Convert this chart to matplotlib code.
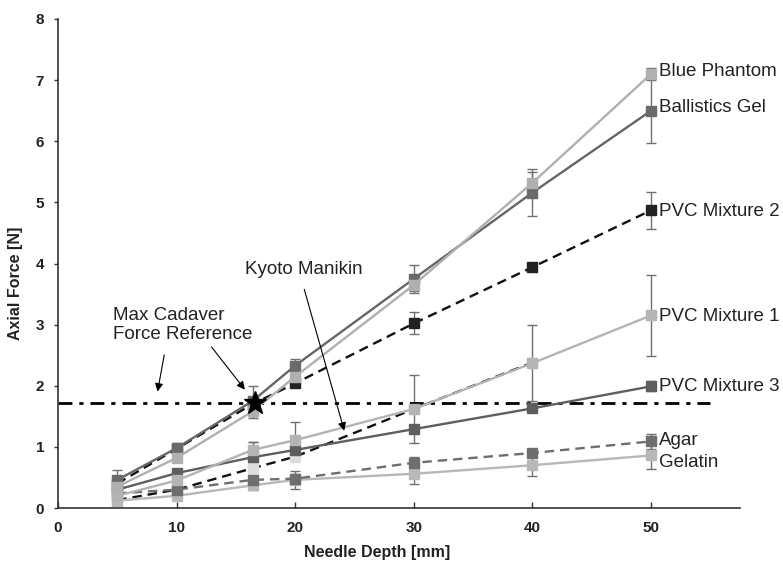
import numpy as np
import matplotlib.pyplot as plt

plt.rcParams['font.family'] = ['Liberation Sans', 'DejaVu Sans']

# needle depth [mm]
depth = [5, 10, 16.4, 20, 30, 40, 50]
depth_kyoto = [5, 10, 16.4, 20, 30, 40]

# axial force [N] and standard deviations
blue_phantom = [0.35, 0.82, 1.58, 2.15, 3.65, 5.32, 7.10]
blue_phantom_err = [0.05, 0.05, 0.10, 0.08, 0.10, 0.18, 0.10]
ballistics_gel = [0.46, 0.98, 1.75, 2.33, 3.75, 5.16, 6.50]
ballistics_gel_err = [0.16, 0.08, 0.25, 0.10, 0.23, 0.38, 0.53]
pvc2 = [0.40, 0.97, 1.70, 2.04, 3.02, 3.94, 4.87]
pvc2_err = [0.05, 0.05, 0.08, 0.05, 0.18, 0.07, 0.30]
pvc1 = [0.20, 0.45, 0.95, 1.11, 1.62, 2.37, 3.15]
pvc1_err = [0.04, 0.05, 0.13, 0.30, 0.55, 0.62, 0.67]
pvc3 = [0.30, 0.57, 0.83, 0.95, 1.29, 1.63, 1.99]
pvc3_err = [0.03, 0.04, 0.25, 0.05, 0.05, 0.05, 0.08]
agar = [0.24, 0.30, 0.46, 0.48, 0.74, 0.90, 1.09]
agar_err = [0.03, 0.04, 0.06, 0.08, 0.10, 0.07, 0.12]
gelatin = [0.12, 0.20, 0.37, 0.46, 0.56, 0.70, 0.86]
gelatin_err = [0.03, 0.04, 0.08, 0.15, 0.17, 0.17, 0.22]
kyoto = [0.13, 0.30, 0.65, 0.84, 1.62, 2.38]

cadaver_force = 1.72
cadaver_depth = 16.6

fig = plt.figure(figsize=(7.83, 5.65), dpi=100)
ax = fig.add_axes([58 / 783, 57 / 565, 682 / 783, 489 / 565])

series = [
    # values, errors, line colour, marker colour, linestyle, label, label y
    (gelatin, gelatin_err, '#b8b8b8', '#b8b8b8', '-', 'Gelatin', 0.74),
    (agar, agar_err, '#6e6e6e', '#6e6e6e', (0, (4, 2.5)), 'Agar', 1.10),
    (pvc3, pvc3_err, '#5e5e5e', '#5e5e5e', '-', 'PVC Mixture 3', 1.98),
    (pvc1, pvc1_err, '#b4b4b4', '#b4b4b4', '-', 'PVC Mixture 1', 3.13),
    (pvc2, pvc2_err, '#111111', '#222222', (0, (4, 2.5)), 'PVC Mixture 2', 4.85),
    (ballistics_gel, ballistics_gel_err, '#666666', '#6a6a6a', '-', 'Ballistics Gel', 6.56),
    (blue_phantom, blue_phantom_err, '#b0b0b0', '#b0b0b0', '-', 'Blue Phantom', 7.14),
]

for vals, errs, lc, mc, ls, label, ly in series:
    ax.errorbar(depth, vals, yerr=errs, color=lc, linestyle=ls, linewidth=1.7,
                marker='s', markersize=6.5, markerfacecolor=mc, markeredgecolor=mc,
                ecolor='#707070', elinewidth=1, capsize=3.5, capthick=1)
    ax.text(50.7, ly, label, fontsize=13.5, color='#222222', va='center', ha='left')

ax.plot(depth_kyoto, kyoto, color='#111111', linestyle=(0, (4, 2.5)), linewidth=1.7,
        marker='s', markersize=6.5, markerfacecolor='#dedede', markeredgecolor='#dedede')

# max cadaver force reference
ax.plot([0, 55], [cadaver_force, cadaver_force], color='black', linewidth=2,
        linestyle=(0, (5, 2.5, 1.5, 2.5)))
ax.plot(cadaver_depth, cadaver_force, marker='*', markersize=17, color='black', zorder=10)

arrow = dict(arrowstyle='-|>', color='black', lw=0.8, mutation_scale=12)
ax.text(4.6, 3.0, 'Max Cadaver\nForce Reference', fontsize=13.5, color='#222222',
        ha='left', va='center', linespacing=1.15)
ax.annotate('', xy=(8.35, 1.86), xytext=(9.0, 2.55), arrowprops=arrow)
ax.annotate('', xy=(15.9, 1.9), xytext=(12.8, 2.67), arrowprops=arrow)
ax.text(15.8, 3.91, 'Kyoto Manikin', fontsize=13.5, color='#222222', ha='left', va='center')
ax.annotate('', xy=(24.2, 1.22), xytext=(20.7, 3.62), arrowprops=arrow)

ax.set_xlim(0, 57.5)
ax.set_ylim(0, 8)
ax.set_xticks([0, 10, 20, 30, 40, 50])
ax.set_yticks(range(9))
for s in ['top', 'right']:
    ax.spines[s].set_visible(False)
for s in ['left', 'bottom']:
    ax.spines[s].set_color('#333333')
    ax.spines[s].set_linewidth(1.2)
ax.tick_params(axis='x', direction='in', length=4, width=1, colors='#333333', pad=9)
ax.tick_params(axis='y', direction='out', length=3, width=1, colors='#333333', pad=7)
for t in ax.get_xticklabels() + ax.get_yticklabels():
    t.set_fontweight('bold')
    t.set_fontsize(11)
    t.set_color('#222222')

ax.set_xlabel('Needle Depth [mm]', fontsize=11.5, fontweight='bold', color='#222222')
ax.set_ylabel('Axial Force [N]', fontsize=11.5, fontweight='bold', color='#222222')
ax.xaxis.set_label_coords(0.468, -0.076)
ax.yaxis.set_label_coords(-0.052, 0.46)

fig.savefig('out.png', dpi=100)
